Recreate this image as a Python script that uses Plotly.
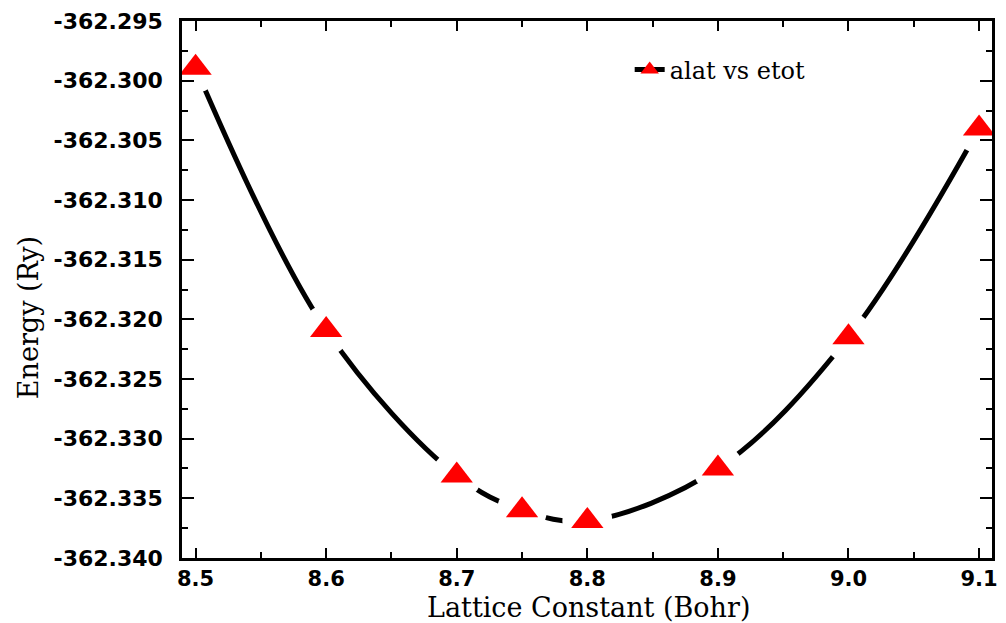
import plotly.graph_objects as go

# ---- data ----
ALAT = [8.5, 8.6, 8.7, 8.75, 8.8, 8.9, 9.0, 9.1]
ETOT = [-362.2989, -362.3209, -362.3331, -362.3360, -362.3369, -362.3325, -362.3215, -362.3040]
SERIES_NAME = "alat vs etot"

X_TICKS = [8.5, 8.6, 8.7, 8.8, 8.9, 9.0, 9.1]
X_TICK_LABELS = ["8.5", "8.6", "8.7", "8.8", "8.9", "9.0", "9.1"]
Y_TICKS = [-362.340, -362.335, -362.330, -362.325, -362.320, -362.315,
           -362.310, -362.305, -362.300, -362.295]
Y_TICK_LABELS = ["-362.340", "-362.335", "-362.330", "-362.325", "-362.320",
                 "-362.315", "-362.310", "-362.305", "-362.300", "-362.295"]
X_TITLE = "Lattice Constant (Bohr)"
Y_TITLE = "Energy (Ry)"

W, H = 1006, 623
ML, MR, MT, MB = 182, 8, 21, 65
PW, PH = W - ML - MR, H - MT - MB

def px_x(p):
    return (p - ML) / PW

def px_y(p):
    return (H - MB - p) / PH

fig = go.Figure()

# smooth curve (carries the legend entry)
fig.add_trace(go.Scatter(
    x=ALAT, y=ETOT, mode="lines+markers", name=SERIES_NAME,
    line=dict(color="black", width=5, shape="spline", smoothing=1),
    marker=dict(symbol="triangle-up", size=28, color="red"),
))
# white halo around markers to open the line near each point
fig.add_trace(go.Scatter(
    x=ALAT, y=ETOT, mode="markers", showlegend=False, hoverinfo="skip",
    marker=dict(symbol="circle", size=50, color="white"),
))
# red triangles
fig.add_trace(go.Scatter(
    x=ALAT, y=ETOT, mode="markers", showlegend=False,
    marker=dict(symbol="triangle-up", size=28, color="red"),
))

xtickfont = dict(family="DejaVu Sans", size=21, color="black", weight="bold")
ytickfont = dict(family="DejaVu Sans", size=22, color="black", weight="bold")

fig.update_layout(
    width=W, height=H,
    margin=dict(l=ML, r=MR, t=MT, b=MB),
    paper_bgcolor="white", plot_bgcolor="white",
    showlegend=True,
    legend=dict(x=px_x(633), y=px_y(70), xanchor="left", yanchor="middle",
                bgcolor="rgba(0,0,0,0)",
                font=dict(family="DejaVu Serif", size=24, color="black")),
    xaxis=dict(
        range=[8.4896, 9.1099], tickvals=X_TICKS, ticktext=X_TICK_LABELS,
        showgrid=False, zeroline=False, showline=True, linecolor="black", linewidth=2.5,
        mirror="allticks", ticks="inside", ticklen=10, tickwidth=2, tickcolor="black",
        minor=dict(dtick=0.05, tick0=8.5, ticks="inside", ticklen=6, tickwidth=2,
                   tickcolor="black", showgrid=False),
        tickfont=xtickfont, ticklabelstandoff=0, layer="above traces",
    ),
    yaxis=dict(
        range=[-362.34001, -362.29499], tickvals=Y_TICKS, ticktext=Y_TICK_LABELS,
        showgrid=False, zeroline=False, showline=True, linecolor="black", linewidth=2.5,
        mirror="allticks", ticks="inside", ticklen=12, tickwidth=2, tickcolor="black",
        minor=dict(dtick=0.0025, tick0=-362.34, ticks="inside", ticklen=6, tickwidth=2,
                   tickcolor="black", showgrid=False),
        tickfont=ytickfont, ticklabelstandoff=12, layer="above traces",
    ),
    annotations=[
        dict(text=X_TITLE, xref="paper", yref="paper", x=px_x(592), y=px_y(607),
             xanchor="center", yanchor="middle", showarrow=False,
             font=dict(family="DejaVu Serif", size=27, color="black")),
        dict(text=Y_TITLE, xref="paper", yref="paper", x=px_x(27), y=px_y(318),
             xanchor="center", yanchor="middle", showarrow=False, textangle=-90,
             font=dict(family="DejaVu Serif", size=27, color="black")),
    ],
)

fig.write_html("out.html")
